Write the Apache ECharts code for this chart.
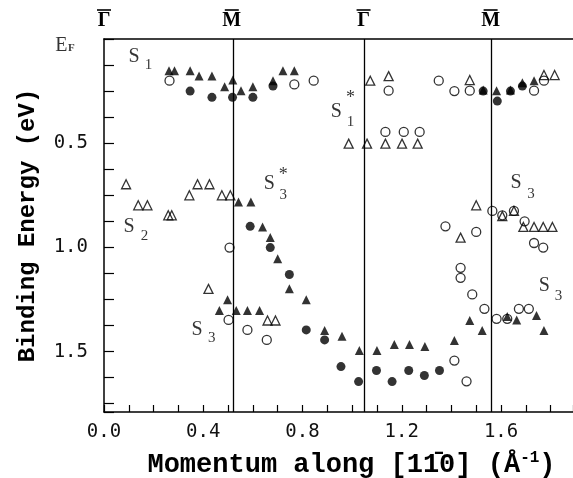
<!DOCTYPE html>
<html>
<head>
  <meta charset="utf-8">
  <title>Binding Energy vs Momentum</title>
  <script src="https://cdn.jsdelivr.net/npm/echarts@6/dist/echarts.min.js"></script>
  <style>
    html, body { margin: 0; padding: 0; background: #fff; }
    #main { width: 573px; height: 478px; }
  </style>
</head>
<body>
  <div id="main"></div>
  <script>
  // [momentum (1/A), binding energy (eV)]
  var filledTri = [
    [0.262,0.152],[0.284,0.152],[0.347,0.152],[0.383,0.178],[0.435,0.178],[0.486,0.229],
    [0.519,0.197],[0.552,0.248],[0.600,0.229],[0.681,0.200],[0.721,0.152],[0.767,0.152],
    [1.528,0.245],[1.582,0.248],[1.638,0.245],[1.686,0.210],[1.733,0.200],
    [0.542,0.782],[0.592,0.782],[0.639,0.902],[0.670,0.953],[0.700,1.054],[0.747,1.199],
    [0.815,1.251],[0.889,1.399],[0.959,1.426],[1.029,1.495],[1.100,1.495],[1.170,1.466],
    [1.231,1.466],[1.293,1.476],[1.412,1.447],[1.474,1.351],[1.524,1.399],
    [0.498,1.251],[0.465,1.303],[0.533,1.303],[0.578,1.303],[0.627,1.303],
    [1.625,1.332],[1.663,1.348],[1.743,1.327],[1.773,1.399]
  ];
  var filledDot = [
    [0.347,0.250],[0.435,0.280],[0.518,0.280],[0.600,0.280],[0.681,0.226],
    [1.528,0.250],[1.585,0.298],[1.638,0.250],[1.686,0.226],
    [0.589,0.899],[0.670,1.001],[0.747,1.130],[0.815,1.396],[0.889,1.444],[0.955,1.572],
    [1.026,1.644],[1.098,1.591],[1.161,1.644],[1.228,1.591],[1.291,1.615],[1.352,1.591]
  ];
  var openTri = [
    [1.073,0.200],[1.147,0.178],[1.474,0.197],[1.773,0.173],[1.816,0.173],
    [0.986,0.502],[1.060,0.502],[1.134,0.502],[1.201,0.502],[1.264,0.502],
    [0.089,0.697],[0.138,0.798],[0.175,0.798],[0.259,0.846],[0.273,0.846],[0.344,0.750],
    [0.377,0.697],[0.425,0.697],[0.475,0.750],[0.509,0.750],
    [1.500,0.798],[1.605,0.850],[1.652,0.825],[1.690,0.902],[1.733,0.902],[1.770,0.902],
    [1.807,0.902],[1.437,0.953],
    [0.421,1.199],[0.659,1.351],[0.691,1.351]
  ];
  var openDot = [
    [0.264,0.200],[0.767,0.218],[0.845,0.200],[1.147,0.248],[1.134,0.446],[1.208,0.446],
    [1.272,0.446],[1.349,0.200],[1.412,0.250],[1.474,0.248],[1.733,0.248],[1.773,0.200],
    [0.506,1.001],[1.565,0.825],[1.605,0.846],[1.652,0.825],[1.695,0.875],[1.733,0.979],
    [1.770,1.001],[1.376,0.899],[1.500,0.926],[1.437,1.098],[1.437,1.146],
    [0.502,1.348],[0.578,1.396],[0.656,1.444],
    [1.412,1.543],[1.461,1.643],[1.484,1.226],[1.533,1.295],[1.582,1.343],[1.625,1.343],
    [1.672,1.295],[1.712,1.295]
  ];

  // symmetry points along the top (drawn with a bar above)
  var symPoints = [0, 0.515, 1.046, 1.558];
  var symNames = ['\u0393', 'M', '\u0393', 'M'];
  var xTickLabels = [0, 0.4, 0.8, 1.2, 1.6];
  var yTickLabels = [0.5, 1.0, 1.5];

  // band labels: [x, y, text]
  var notes = [
    [-0.172, 0.030, '{s|E}'], [-0.132, 0.045, '{f|F}'],
    [0.121, 0.087, '{s|S}'], [0.179, 0.125, '{d|1}'],
    [0.936, 0.349, '{s|S}'], [0.993, 0.284, '{a|*}'], [0.993, 0.399, '{d|1}'],
    [0.101, 0.899, '{s|S}'], [0.163, 0.947, '{d|2}'],
    [0.666, 0.695, '{s|S}'], [0.722, 0.654, '{a|*}'], [0.722, 0.750, '{d|3}'],
    [1.661, 0.690, '{s|S}'], [1.721, 0.743, '{d|3}'],
    [0.375, 1.397, '{s|S}'], [0.434, 1.435, '{d|3}'],
    [1.774, 1.183, '{s|S}'], [1.832, 1.236, '{d|3}']
  ];

  var black = '#000';
  var titleFont = '"Liberation Mono", "Courier New", monospace';
  var tickFont = '"DejaVu Sans Mono", monospace';
  var serif = '"Liberation Serif", "DejaVu Serif", serif';

  var chart = echarts.init(document.getElementById('main'));

  var option = {
    animation: false,
    backgroundColor: '#fff',
    grid: { left: 104, top: 39, right: 0, bottom: 66, outerBoundsMode: 'none' },
    xAxis: [{
      type: 'value', min: 0, max: 1.89, interval: 0.1,
      axisLine: { onZero: false, lineStyle: { color: black, width: 1.5 } },
      axisTick: { inside: true, length: 7, lineStyle: { color: black, width: 1.2 } },
      axisLabel: {
        customValues: xTickLabels,
        formatter: function (v) { return v.toFixed(1); },
        fontFamily: tickFont, fontSize: 19, color: '#111', margin: 11
      },
      splitLine: { show: false },
      name: '{t|Momentum along [11\u03040] (\u00c5}{sup|-1}{t|)}',
      nameLocation: 'middle', nameGap: 38,
      nameTextStyle: {
        padding: [0, 0, 0, 26],
        rich: {
          t: { fontFamily: titleFont, fontWeight: 'bold', fontSize: 27, color: black, lineHeight: 30 },
          sup: { fontFamily: titleFont, fontWeight: 'bold', fontSize: 16, color: black, lineHeight: 18, verticalAlign: 'top' }
        }
      }
    }, {
      type: 'value', position: 'top', min: 0, max: 1.89,
      axisLine: { show: true, onZero: false, lineStyle: { color: black, width: 1.5 } },
      axisTick: { show: false },
      axisLabel: {
        customValues: symPoints,
        formatter: function (v) {
          return '{bar| }\n{g|' + (symNames[symPoints.indexOf(v)] || '') + '}';
        },
        margin: 9,
        rich: {
          bar: { width: 14, height: 1.6, lineHeight: 4, backgroundColor: black, fontSize: 1 },
          g: { fontFamily: serif, fontWeight: 'bold', fontSize: 20, color: black, lineHeight: 18 }
        }
      },
      splitLine: { show: false }
    }],
    yAxis: {
      type: 'value', inverse: true, min: 0, max: 1.79, interval: 0.125,
      axisLine: { show: true, onZero: false, lineStyle: { color: black, width: 1.5 } },
      axisTick: { inside: true, length: 10, lineStyle: { color: black, width: 1.2 } },
      axisLabel: {
        customValues: yTickLabels,
        formatter: function (v) { return v.toFixed(1); },
        fontFamily: tickFont, fontSize: 19, color: '#111', margin: 16
      },
      splitLine: { show: false },
      name: 'Binding Energy (eV)',
      nameLocation: 'middle', nameGap: 64,
      nameTextStyle: { fontFamily: titleFont, fontWeight: 'bold', fontSize: 24, color: black }
    },
    series: [
      {
        type: 'scatter', name: 'open triangles', data: openTri,
        symbol: 'triangle', symbolSize: 9,
        itemStyle: { color: 'rgba(0,0,0,0)', borderColor: black, borderWidth: 1.3 }
      },
      {
        type: 'scatter', name: 'open circles', data: openDot,
        symbol: 'circle', symbolSize: 9,
        itemStyle: { color: 'rgba(0,0,0,0)', borderColor: black, borderWidth: 1.3 }
      },
      {
        type: 'scatter', name: 'filled triangles', data: filledTri,
        symbol: 'triangle', symbolSize: 9,
        itemStyle: { color: black },
        markLine: {
          silent: true, symbol: ['none', 'none'],
          label: { show: false },
          lineStyle: { color: black, width: 1.3, type: 'solid' },
          data: symPoints.slice(1).map(function (v) { return { xAxis: v }; })
        }
      },
      {
        type: 'scatter', name: 'filled circles', data: filledDot,
        symbol: 'circle', symbolSize: 9,
        itemStyle: { color: black }
      },
      {
        type: 'scatter', name: 'labels', data: notes,
        symbolSize: 0, clip: false, silent: true,
        label: {
          show: true, position: 'inside',
          formatter: function (p) { return p.data[2]; },
          rich: {
            s: { fontFamily: serif, fontSize: 20, color: black },
            d: { fontFamily: serif, fontSize: 15, color: black },
            f: { fontFamily: serif, fontWeight: 'bold', fontSize: 11, color: black },
            a: { fontFamily: serif, fontSize: 18, color: black }
          }
        }
      }
    ]
  };

  chart.setOption(option);
  </script>
</body>
</html>
